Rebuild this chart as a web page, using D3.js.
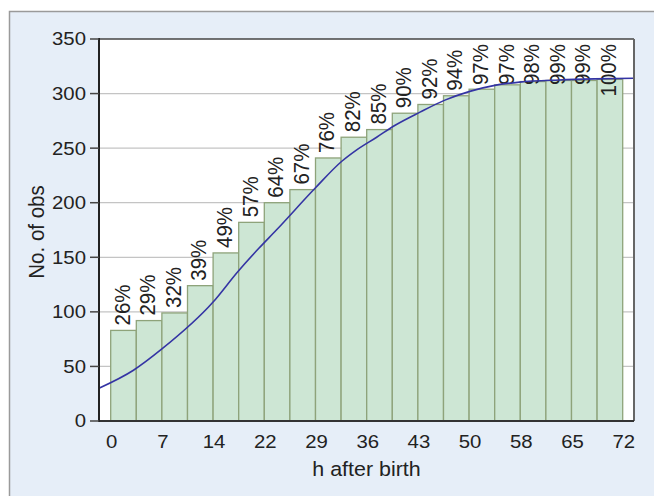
<!DOCTYPE html>
<html>
<head>
<meta charset="utf-8">
<script src="https://cdn.jsdelivr.net/npm/d3@7"></script>
<style>
  body { margin: 0; background: #fff; }
  text { font-family: Arial, "Liberation Sans", sans-serif; fill: #222; }
</style>
</head>
<body>
<svg id="chart"></svg>
<script>
var width = 654,
    height = 496;

// cumulative number of observations per 3.6 h bin
var counts = [83, 92, 99, 124, 154, 182, 200, 212, 241, 260, 267, 282, 290, 298, 304, 308, 311, 312, 312, 313];
var pctLabels = ["26%", "29%", "32%", "39%", "49%", "57%", "64%", "67%", "76%", "82%",
                 "85%", "90%", "92%", "94%", "97%", "97%", "98%", "99%", "99%", "100%"];
var binWidth = 3.6;

var xTickValues = [0, 7.2, 14.4, 21.6, 28.8, 36, 43.2, 50.4, 57.6, 64.8, 72];
var xTickLabels = ["0", "7", "14", "22", "29", "36", "43", "50", "58", "65", "72"];
var yTickValues = [0, 50, 100, 150, 200, 250, 300, 350];

// fitted curve
var curveH = [-1.65, 3.2, 7.2, 14.4, 17.9, 20.8, 23.3, 28.7, 32.5, 34.5, 37.4, 40, 43.5, 47, 50.5, 54, 57.5, 63, 68, 73.6];
var curveN = [30, 46.5, 66, 109, 137, 158, 175, 213, 238, 248, 260, 271, 283, 294, 302, 307.5, 310.5, 312.5, 313.5, 314];

var plotL = 99, plotR = 634, plotT = 39, plotB = 421;
var stretch = 1.1; // the original lettering is a little wider than Arial

var svg = d3.select('#chart')
            .attr('width', width)
            .attr('height', height);

// outer panel
svg.append('rect')
    .attr('x', 9.5).attr('y', 11.5)
    .attr('width', width).attr('height', height)
    .attr('fill', '#e6eef8')
    .attr('stroke', '#9a9a9a')
    .attr('stroke-width', 1.5);

// plot background
svg.append('rect')
    .attr('x', plotL).attr('y', plotT)
    .attr('width', plotR - plotL).attr('height', plotB - plotT)
    .attr('fill', '#fff');

var x = d3.scaleLinear().domain([0, 72]).range([110.7, 622.7]);
var y = d3.scaleLinear().domain([0, 350]).range([plotB, plotT]);

// gridlines
svg.append('g')
  .selectAll('line')
  .data(yTickValues.filter(d => d > 0 && d < 350))
  .enter()
  .append('line')
    .attr('x1', plotL).attr('x2', plotR)
    .attr('y1', d => y(d)).attr('y2', d => y(d))
    .attr('stroke', '#c4c4c4')
    .attr('stroke-width', 1.2);

// bars
svg.append('g')
  .selectAll('rect')
  .data(counts)
  .enter()
  .append('rect')
    .attr('x', (d, i) => x(i * binWidth))
    .attr('y', d => y(d))
    .attr('width', x(binWidth) - x(0))
    .attr('height', d => y(0) - y(d))
    .attr('fill', '#cde6d4')
    .attr('stroke', '#8ea37a')
    .attr('stroke-width', 1.3);

// bar labels
var labels = svg.append('g')
  .selectAll('text')
  .data(counts)
  .enter()
  .append('text')
    .style('font-size', '20.5px')
    .attr('text-anchor', 'start')
    .text((d, i) => pctLabels[i]);

labels.each(function(d, i) {
  var len = this.getComputedTextLength();
  var cx = x(i * binWidth + binWidth / 2) + 6;
  var start = Math.max(y(d) - 5, plotT + 5 + len);
  d3.select(this).attr('transform',
    'translate(' + cx + ',' + start + ') scale(' + stretch + ',1) rotate(-90)');
});

// curve
var line = d3.line()
    .x(d => x(d[0]))
    .y(d => y(d[1]))
    .curve(d3.curveMonotoneX);

svg.append('path')
    .datum(curveH.map((h, i) => [h, curveN[i]]))
    .attr('d', line)
    .attr('fill', 'none')
    .attr('stroke', '#3434a4')
    .attr('stroke-width', 1.6);

// frame
svg.append('line')
    .attr('x1', plotL).attr('x2', plotR).attr('y1', plotT).attr('y2', plotT)
    .attr('stroke', '#444').attr('stroke-width', 1.5);
svg.append('line')
    .attr('x1', plotR).attr('x2', plotR).attr('y1', plotT).attr('y2', plotB)
    .attr('stroke', '#666').attr('stroke-width', 2);
svg.append('line')
    .attr('x1', plotL).attr('x2', plotR).attr('y1', plotB).attr('y2', plotB)
    .attr('stroke', '#333').attr('stroke-width', 2);
svg.append('line')
    .attr('x1', plotL).attr('x2', plotL).attr('y1', plotT - 1).attr('y2', plotB + 1)
    .attr('stroke', '#222').attr('stroke-width', 2);

// y ticks
var yTicks = svg.append('g')
  .selectAll('g')
  .data(yTickValues)
  .enter()
  .append('g');

yTicks.append('line')
    .attr('x1', plotL - 9).attr('x2', plotL)
    .attr('y1', d => y(d)).attr('y2', d => y(d))
    .attr('stroke', '#444')
    .attr('stroke-width', 1.5);

yTicks.append('text')
    .attr('transform', d => 'translate(' + (plotL - 13) + ',' + y(d) + ') scale(' + stretch + ',1)')
    .attr('dy', '0.35em')
    .attr('text-anchor', 'end')
    .style('font-size', '18.5px')
    .text(d => d);

// x tick labels
svg.append('g')
  .selectAll('text')
  .data(xTickValues)
  .enter()
  .append('text')
    .attr('transform', d => 'translate(' + (x(d) + 1) + ',448) scale(' + stretch + ',1)')
    .attr('text-anchor', 'middle')
    .style('font-size', '18.5px')
    .text((d, i) => xTickLabels[i]);

// axis titles
svg.append('text')
    .attr('transform', 'translate(' + ((plotL + plotR) / 2) + ',476) scale(' + stretch + ',1)')
    .attr('text-anchor', 'middle')
    .style('font-size', '19.5px')
    .text('h after birth');

svg.append('text')
    .attr('transform', 'translate(44,' + ((plotT + plotB) / 2 + 2) + ') scale(' + stretch + ',1) rotate(-90)')
    .attr('text-anchor', 'middle')
    .style('font-size', '20.5px')
    .text('No. of obs');
</script>
</body>
</html>
